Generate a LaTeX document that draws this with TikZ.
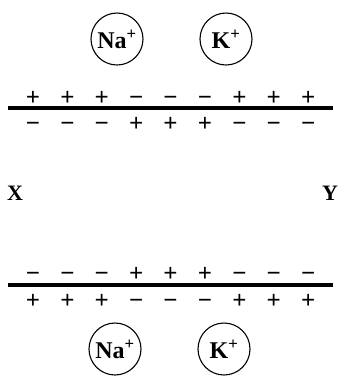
\documentclass[tikz,border=0pt]{standalone}
\usepackage{fontspec}
\setmainfont{Liberation Serif}
\usetikzlibrary{positioning}

\tikzset{
  ion/.style={circle, draw, line width=1.1pt, minimum size=52pt, inner sep=0pt,
              font=\fontsize{24}{24}\selectfont\bfseries},
  charge/.style={inner sep=0pt, text height=20pt, text depth=0pt,
                 font=\fontsize{25}{25}\selectfont\bfseries},
  membrane/.style={line width=4pt},
  pole/.style={font=\fontsize{22}{22}\selectfont\bfseries}
}

\begin{document}
\begin{tikzpicture}[x=1pt, y=-1pt]
  % frame in pixel units, y grows downwards
  \useasboundingbox (0,0) rectangle (342,376);
  \def\dx{34.4}

  % ions above and below
  \node[ion] (naTop) at (117,39) {Na\textsuperscript{+}};
  \node[ion] (kTop)  at (226,39) {K\textsuperscript{+}};
  \node[ion] (naBot) at (115,349) {Na\textsuperscript{+}};
  \node[ion] (kBot)  at (224,349) {K\textsuperscript{+}};

  % membranes
  \coordinate (mtL) at (8,108);  \coordinate (mtR) at (333,108);
  \coordinate (mbL) at (8,285);  \coordinate (mbR) at (333,285);
  \draw[membrane] (mtL) -- (mtR);
  \draw[membrane] (mbL) -- (mbR);

  % charges
  \foreach \i/\up/\dn in {0/+/−, 1/+/−, 2/+/−, 3/−/+, 4/−/+,
                           5/−/+, 6/+/−, 7/+/−, 8/+/−}{
    \node[charge] (tu\i) at (33+\i*\dx,95)  {\up};
    \node[charge] (td\i) at (33+\i*\dx,121) {\dn};
    \node[charge] (bu\i) at (33+\i*\dx,271) {\dn};
    \node[charge] (bd\i) at (33+\i*\dx,298) {\up};
  }

  % ends
  \node[pole] (x) at (15,193) {X};
  \node[pole] (y) at (330,193) {Y};
\end{tikzpicture}
\end{document}
